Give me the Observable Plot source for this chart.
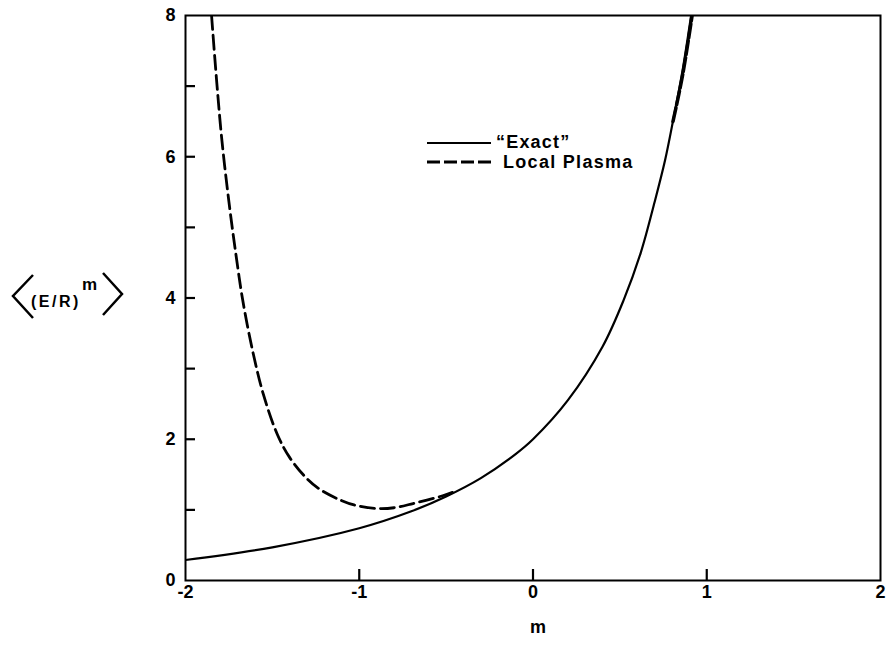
<!DOCTYPE html>
<html>
<head>
<meta charset="utf-8">
<script src="https://cdn.jsdelivr.net/npm/d3@7"></script>
<script src="https://cdn.jsdelivr.net/npm/@observablehq/plot@0.6"></script>
<style>
  body { margin: 0; background: #fff; }
  #wrap { position: relative; width: 895px; height: 655px; font-family: "Liberation Sans", Arial, Helvetica, sans-serif; }
  #overlay { position: absolute; left: 0; top: 0; pointer-events: none; }
</style>
</head>
<body>
<div id="wrap"></div>
<script>
// ---- data ----
const exactM = [-2, -1.5, -1.0, -0.7, -0.5, -0.3, -0.1, 0, 0.2, 0.4, 0.52, 0.62, 0.7, 0.76, 0.81, 0.86, 0.91];
const exactY = [0.29, 0.47, 0.74, 0.98, 1.19, 1.45, 1.79, 2.0, 2.55, 3.31, 3.96, 4.64, 5.36, 5.95, 6.56, 7.21, 8.0];
const plasmaM = [-1.85, -1.82, -1.79, -1.75, -1.71, -1.67, -1.61, -1.55, -1.47, -1.40, -1.30, -1.22, -1.10, -1.03, -0.90, -0.80, -0.69, -0.52, -0.45];
const plasmaY = [8.0, 7.05, 6.22, 5.36, 4.62, 3.96, 3.21, 2.62, 2.06, 1.74, 1.44, 1.28, 1.13, 1.07, 1.02, 1.03, 1.09, 1.20, 1.26];
const plasmaHighM = [0.80, 0.855, 0.91];
const plasmaHighY = [6.5, 7.15, 8.0];
const xTickLabels = [-2, -1, 0, 1, 2];
const xTickMarks = [-1, 0, 1];
const yTickLabels = [0, 2, 4, 6, 8];
const yTickMarks = [1, 2, 3, 4, 5, 6, 7];
const legendLabels = ["\u201cExact\u201d", "Local Plasma"];

const exact = exactM.map((m, i) => ({m, v: exactY[i]}));
const plasma = plasmaM.map((m, i) => ({m, v: plasmaY[i]}));
const plasmaHigh = plasmaHighM.map((m, i) => ({m, v: plasmaHighY[i]}));

const W = 895, H = 655, ML = 185, MR = 15, MT = 15, MB = 75;
const frameW = W - ML - MR, frameH = H - MT - MB;
const font = "Liberation Sans, Arial, Helvetica, sans-serif";

const chart = Plot.plot({
  width: W,
  height: H,
  marginLeft: ML,
  marginRight: MR,
  marginTop: MT,
  marginBottom: MB,
  style: { fontFamily: font, background: "#fff", color: "#000" },
  x: { domain: [-2, 2] },
  y: { domain: [0, 8] },
  marks: [
    Plot.line(exact, { x: "m", y: "v", curve: "catmull-rom", stroke: "#000", strokeWidth: 2.2, clip: true }),
    Plot.line(plasma, { x: "m", y: "v", curve: "catmull-rom", stroke: "#000", strokeWidth: 2.8, strokeDasharray: "14,6", clip: true }),
    Plot.line(plasmaHigh, { x: "m", y: "v", curve: "catmull-rom", stroke: "#000", strokeWidth: 3.5, dx: 1, strokeDasharray: "14,3", clip: true }),
    Plot.frame({ stroke: "#000", strokeWidth: 2 }),
    Plot.axisY({ ticks: yTickLabels, tickSize: 0, tickPadding: 10, fontSize: 18, fontWeight: "bold", label: null, tickFormat: d => String(d) }),
    Plot.axisX({ ticks: xTickLabels, tickSize: 0, tickPadding: 5, fontSize: 18, fontWeight: "bold", label: null, tickFormat: d => d < 0 ? "-" + Math.abs(d) : String(d) }),
    Plot.tickY(yTickMarks, { y: d => d, insetRight: frameW - 10, stroke: "#000", strokeWidth: 2.2 }),
    Plot.tickX(xTickMarks, { x: d => d, insetTop: frameH - 11, stroke: "#000", strokeWidth: 2.2 }),
    Plot.text(["m"], { frameAnchor: "bottom", dx: 5, dy: 52, fontSize: 18, fontWeight: "bold" })
  ]
});

const wrap = document.getElementById("wrap");
wrap.appendChild(chart);

// y-axis label and legend overlay
const ns = "http://www.w3.org/2000/svg";
const ov = document.createElementNS(ns, "svg");
ov.setAttribute("id", "overlay");
ov.setAttribute("width", W);
ov.setAttribute("height", H);
ov.innerHTML = `
  <g fill="none" stroke="#000" stroke-width="2.5" stroke-linejoin="miter">
    <path d="M33 275 L13 296 L33 318"/>
    <path d="M103 273 L122 294 L103 315"/>
  </g>
  <text x="31" y="307" font-family="${font}" font-weight="bold" font-size="16" letter-spacing="2.5">(E/R)</text>
  <text x="82" y="290" font-family="${font}" font-weight="bold" font-size="17">m</text>
  <line x1="427" y1="143" x2="491" y2="143" stroke="#000" stroke-width="2.2"/>
  <line x1="427" y1="162" x2="491" y2="162" stroke="#000" stroke-width="2.8" stroke-dasharray="13,4"/>
  <text x="496" y="148" font-family="${font}" font-weight="bold" font-size="18" letter-spacing="1.2">${legendLabels[0]}</text>
  <text x="503" y="168" font-family="${font}" font-weight="bold" font-size="18" letter-spacing="1.3">${legendLabels[1]}</text>
`;
wrap.appendChild(ov);
</script>
</body>
</html>
